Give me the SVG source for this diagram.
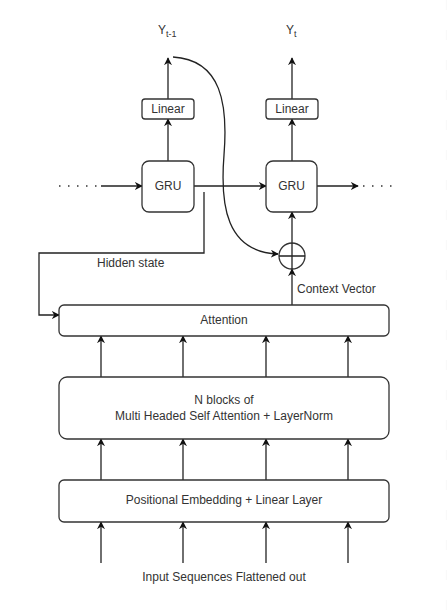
<svg xmlns="http://www.w3.org/2000/svg" width="447" height="611" viewBox="0 0 447 611">
<style>
.box{fill:#fff;stroke:#333;stroke-width:1.3}
.ln{fill:none;stroke:#222;stroke-width:1.3}
.dot{fill:none;stroke:#333;stroke-width:1.5;stroke-dasharray:1.5 7.5}
text{font-family:"Liberation Sans",Arial,sans-serif;font-size:12px;fill:#333}
.c{text-anchor:middle}
</style>
<defs>
<marker id="ah" viewBox="0 0 10 10" refX="9" refY="5" markerWidth="8" markerHeight="8" markerUnits="userSpaceOnUse" orient="auto">
<path d="M0,0 L10,5 L0,10 L3,5 Z" fill="#111"/>
</marker>
</defs>
<rect width="447" height="611" fill="#fff"/>
<line x1="446.3" y1="0" x2="446.3" y2="611" stroke="#f2f2f2" stroke-width="0.6" stroke-dasharray="10 20"/>

<g id="connectors">
<path class="ln" d="M168,99 L168,58" marker-end="url(#ah)"/>
<path class="ln" d="M168,161 L168,119" marker-end="url(#ah)"/>
<path class="ln" d="M292,99 L292,58" marker-end="url(#ah)"/>
<path class="ln" d="M292,161 L292,119" marker-end="url(#ah)"/>
<path class="dot" d="M59,186 L99,186"/>
<path class="ln" d="M101,186 L142,186" marker-end="url(#ah)"/>
<path class="ln" d="M194,186 L266,186" marker-end="url(#ah)"/>
<path class="ln" d="M317,186 L358,186" marker-end="url(#ah)"/>
<path class="dot" d="M363,186 L397,186"/>
<path class="ln" d="M204,192 L204,253 L39,253 L39,315 L59,315" marker-end="url(#ah)"/>
<path class="ln" d="M173,57 C222,60 228,105 224,155 S226,252 278,254" marker-end="url(#ah)"/>
<path class="ln" d="M292,243 L292,212" marker-end="url(#ah)"/>
<path class="ln" d="M292,305 L292,269" marker-end="url(#ah)"/>
<path class="ln" d="M101,377 L101,336" marker-end="url(#ah)"/>
<path class="ln" d="M183,377 L183,336" marker-end="url(#ah)"/>
<path class="ln" d="M266,377 L266,336" marker-end="url(#ah)"/>
<path class="ln" d="M348,377 L348,336" marker-end="url(#ah)"/>
<path class="ln" d="M101,480 L101,439" marker-end="url(#ah)"/>
<path class="ln" d="M183,480 L183,439" marker-end="url(#ah)"/>
<path class="ln" d="M266,480 L266,439" marker-end="url(#ah)"/>
<path class="ln" d="M348,480 L348,439" marker-end="url(#ah)"/>
<path class="ln" d="M101,563 L101,522" marker-end="url(#ah)"/>
<path class="ln" d="M183,563 L183,522" marker-end="url(#ah)"/>
<path class="ln" d="M266,563 L266,522" marker-end="url(#ah)"/>
<path class="ln" d="M348,563 L348,522" marker-end="url(#ah)"/>
</g>

<g id="y-prev"><text x="158" y="34">Y<tspan font-size="9" dy="3">t-1</tspan></text></g>
<g id="y-t"><text x="286" y="34">Y<tspan font-size="9" dy="3">t</tspan></text></g>

<g id="linear1"><rect class="box" x="142" y="99" width="52" height="20" rx="3"/><text class="c" x="168" y="113">Linear</text></g>
<g id="linear2"><rect class="box" x="266" y="99" width="52" height="20" rx="3"/><text class="c" x="292" y="113">Linear</text></g>

<g id="gru1"><rect class="box" x="142" y="161" width="52" height="51" rx="7"/><text class="c" x="168" y="190">GRU</text></g>
<g id="gru2"><rect class="box" x="266" y="161" width="51" height="51" rx="7"/><text class="c" x="291.5" y="190">GRU</text></g>

<g id="sum"><circle class="box" cx="292" cy="256" r="13"/><path class="ln" d="M279,256 L305,256 M292,243 L292,269"/></g>

<g id="hidden-label"><text x="97" y="267">Hidden state</text></g>
<g id="context-label"><text x="297" y="293">Context Vector</text></g>

<g id="attention"><rect class="box" x="59" y="305" width="330" height="31" rx="5"/><text class="c" x="224" y="324">Attention</text></g>

<g id="nblocks"><rect class="box" x="59" y="377" width="330" height="62" rx="8"/><text class="c" x="224" y="404">N blocks of</text><text class="c" x="224" y="420">Multi Headed Self Attention + LayerNorm</text></g>

<g id="posemb"><rect class="box" x="59" y="480" width="330" height="42" rx="5"/><text class="c" x="224" y="504">Positional Embedding + Linear Layer</text></g>

<g id="input-label"><text class="c" x="224" y="581">Input Sequences Flattened out</text></g>
</svg>
